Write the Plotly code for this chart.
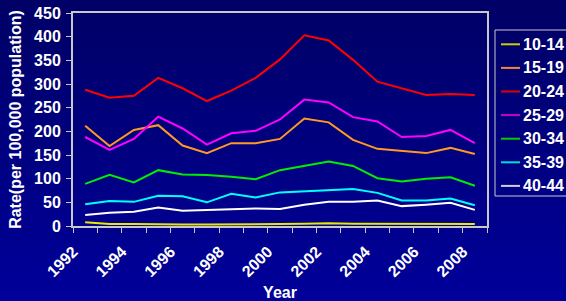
import plotly.graph_objects as go

years = list(range(1992, 2009))
label_years = [1992, 1994, 1996, 1998, 2000, 2002, 2004, 2006, 2008]
y_ticks = [0, 50, 100, 150, 200, 250, 300, 350, 400, 450]

series_names = ["10-14", "15-19", "20-24", "25-29", "30-34", "35-39", "40-44"]
r10_14 = [8, 4, 4, 3, 3, 3, 3, 3, 4, 5, 6, 5, 5, 4, 4, 4, 4]
r15_19 = [212, 169, 203, 213, 170, 154, 175, 175, 184, 227, 219, 182, 163, 159, 154, 165, 152]
r20_24 = [288, 271, 275, 313, 291, 264, 286, 313, 352, 403, 392, 351, 305, 291, 277, 279, 277]
r25_29 = [188, 161, 184, 231, 206, 172, 196, 201, 225, 267, 261, 230, 221, 188, 190, 203, 175]
r30_34 = [89, 108, 92, 118, 109, 108, 104, 99, 118, 127, 136, 127, 101, 94, 100, 103, 85]
r35_39 = [46, 53, 51, 64, 63, 50, 68, 60, 71, 73, 75, 78, 70, 54, 54, 58, 44]
r40_44 = [23, 28, 30, 39, 32, 34, 35, 37, 36, 45, 51, 51, 54, 42, 45, 49, 34]
series_values = [r10_14, r15_19, r20_24, r25_29, r30_34, r35_39, r40_44]
colors = ["#e8e800", "#ff9922", "#ff0000", "#ff00ff", "#00ee00", "#00ffff", "#ffffff"]
legend_colors = ["#cccc00", "#ee8833", "#dd0000", "#cc00cc", "#00cc00", "#00dddd", "#d0d0d0"]

W, H = 566, 301
ML, MR, MT, MB = 73, 79, 13, 75
PW, PH = W - ML - MR, H - MT - MB


def px(x):
    return (x - ML) / PW


def py(y):
    return (H - MB - y) / PH


FONT = "Liberation Sans, Arial, sans-serif"
FS = 16

fig = go.Figure()
for name, vals, col in zip(series_names, series_values, colors):
    fig.add_trace(go.Scatter(x=years, y=vals, mode="lines", name=name,
                             line=dict(color=col, width=2), showlegend=False,
                             hoverinfo="skip"))

# gradient background (top darker navy to lighter blue at bottom)
shapes = []
n = 30
x0p, x1p = px(-2), px(W + 2)
y0p, y1p = py(H + 2), py(-2)
c_top, c_bot = (0, 0, 0x66), (0, 0, 0x9a)
for i in range(n):
    t = i / (n - 1)
    c = tuple(int(round(a + (b - a) * t)) for a, b in zip(c_top, c_bot))
    ya = y1p - (y1p - y0p) * i / n
    yb = y1p - (y1p - y0p) * (i + 1) / n
    shapes.append(dict(type="rect", xref="paper", yref="paper", x0=x0p, x1=x1p,
                       y0=yb - 0.005, y1=ya, fillcolor="rgb(%d,%d,%d)" % c,
                       line=dict(width=0), layer="below"))

# legend (box, sample lines, labels)
annotations = []
shapes.append(dict(type="rect", xref="paper", yref="paper", x0=px(495), x1=px(W + 5),
                   y0=py(196), y1=py(30), line=dict(color="#c8c8c8", width=1),
                   fillcolor="rgba(0,0,0,0)"))
for i, (name, col) in enumerate(zip(series_names, legend_colors)):
    yc = 44.3 + 23.6 * i
    shapes.append(dict(type="line", xref="paper", yref="paper", x0=px(501), x1=px(520),
                       y0=py(yc), y1=py(yc), line=dict(color=col, width=2)))
    annotations.append(dict(xref="paper", yref="paper", x=px(521), y=py(yc),
                            xanchor="left", yanchor="middle", showarrow=False,
                            text="<b>%s</b>" % name,
                            font=dict(family=FONT, size=FS, color="white")))

boundaries = [y - 0.5 for y in years] + [years[-1] + 0.5]

fig.update_layout(
    width=W, height=H,
    margin=dict(l=ML, r=MR, t=MT, b=MB, autoexpand=False),
    paper_bgcolor="#000080",
    plot_bgcolor="rgba(0,0,0,0)",
    shapes=shapes,
    annotations=annotations,
    font=dict(family=FONT, color="white", size=FS),
    showlegend=False,
    hovermode=False,
    xaxis=dict(
        range=[1991.5, 2008.5], tickmode="array", tickvals=label_years,
        ticktext=["<b>%d</b>" % y for y in label_years], ticks="", tickangle=-45,
        showgrid=False, zeroline=False, showline=True, linecolor="#c8c8c8",
        linewidth=2, mirror=True, automargin=False,
        ticklabelshift=-12, ticklabelstandoff=8,
        minor=dict(tickmode="array", tickvals=boundaries, ticks="outside",
                   ticklen=5, tickcolor="#c8c8c8", tickwidth=1, showgrid=False),
        tickfont=dict(family=FONT, size=FS, color="white"),
        title=dict(text="<b>Year</b>", standoff=8, font=dict(family=FONT, size=FS, color="white")),
    ),
    yaxis=dict(
        range=[0, 450], tickmode="array", tickvals=y_ticks,
        ticktext=["<b>%d</b>" % v for v in y_ticks], ticks="outside",
        ticklen=5, tickcolor="#c8c8c8", tickwidth=1, showgrid=False, zeroline=False,
        showline=True, linecolor="#c8c8c8", linewidth=2, mirror=True, automargin=False,
        tickfont=dict(family=FONT, size=FS, color="white"), ticklabelstandoff=2,
        title=dict(text="<b>Rate(per 100,000 population)</b>", standoff=8,
                   font=dict(family=FONT, size=FS, color="white")),
    ),
)

fig.write_html("out.html", config={"displayModeBar": False},
               post_script="document.body.style.margin='0';")
